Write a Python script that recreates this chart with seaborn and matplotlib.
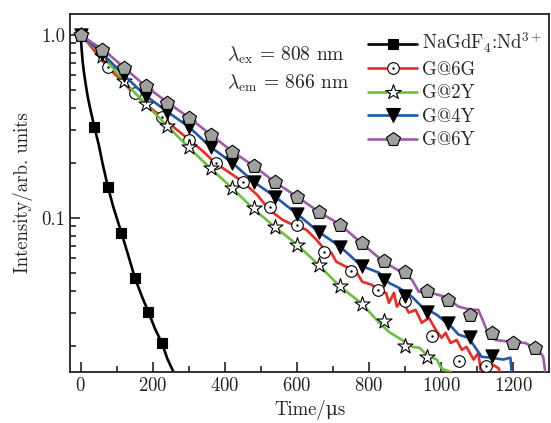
import numpy as np
import pandas as pd
import matplotlib
matplotlib.use('Agg')
import matplotlib.pyplot as plt
import seaborn as sns
from matplotlib.lines import Line2D
from matplotlib.legend_handler import HandlerTuple
from matplotlib.ticker import NullFormatter

# decay curves (time in us, normalised intensity)
t_nd = [0, 2, 5, 8, 14, 20, 28, 37.5, 50, 60, 75, 90, 112.5, 130, 150, 170, 187.5, 205, 225, 240, 257, 270]
i_nd = [1.0, 0.85, 0.72, 0.64, 0.53, 0.45, 0.38, 0.314, 0.25, 0.2, 0.148, 0.115, 0.083, 0.064, 0.047, 0.037,
        0.0306, 0.025, 0.0207, 0.017, 0.0144, 0.012]
tm_nd = [0, 37.5, 75, 112.5, 150, 187.5, 225]
im_nd = [1.0, 0.314, 0.148, 0.0828, 0.047, 0.0306, 0.0207]

t_6g = [0, 15, 35, 74, 110, 146, 185, 225, 260, 301, 340, 372, 410, 450, 490, 524, 560, 588, 626, 654, 670,
        695, 709, 736, 764, 781, 808, 828, 847, 855, 869, 877, 891, 910, 929, 946, 966, 985, 1001, 1012, 1026,
        1043, 1057, 1070, 1090, 1103, 1109, 1123, 1131, 1145, 1160, 1167]
i_6g = [1.0, 0.93, 0.83, 0.668, 0.57, 0.48, 0.41, 0.356, 0.31, 0.267, 0.23, 0.2, 0.178, 0.157, 0.133, 0.11,
        0.0975, 0.0916, 0.086, 0.0758, 0.0695, 0.0644, 0.0575, 0.054, 0.0507, 0.0447, 0.043, 0.0395, 0.0389,
        0.0343, 0.0389, 0.0327, 0.0356, 0.0303, 0.0314, 0.0267, 0.0284, 0.0244, 0.0221, 0.0235, 0.0207,
        0.0215, 0.019, 0.0197, 0.0168, 0.0183, 0.0148, 0.0157, 0.0148, 0.0157, 0.015, 0.012]
tm_6g = [0, 75, 150, 225, 300, 375, 450, 525, 600, 675, 750, 825, 900, 975, 1050, 1125]
im_6g = [1.0, 0.668, 0.48, 0.356, 0.267, 0.2, 0.157, 0.115, 0.0916, 0.065, 0.0513, 0.0404, 0.0352, 0.0227,
         0.0166, 0.0154]

t_2y = [0, 30, 60, 119, 179, 240, 298, 359, 419, 477, 538, 601, 660, 717, 780, 828, 855, 891, 919, 940, 960,
        988, 998, 1007, 1026, 1030]
i_2y = [1.0, 0.88, 0.77, 0.56, 0.42, 0.318, 0.244, 0.187, 0.146, 0.113, 0.0893, 0.0711, 0.0553, 0.0425,
        0.0339, 0.0267, 0.0238, 0.0215, 0.0197, 0.0195, 0.0178, 0.0168, 0.0153, 0.0148, 0.0144, 0.012]
tm_2y = [0, 60, 120, 180, 240, 300, 360, 420, 480, 540, 600, 660, 720, 780, 840, 900, 960]
im_2y = [1.0, 0.77, 0.56, 0.42, 0.318, 0.244, 0.187, 0.146, 0.113, 0.0893, 0.0711, 0.0553, 0.0425, 0.0339,
         0.0274, 0.020, 0.0174]

t_4y = [0, 30, 60, 120, 180, 240, 300, 360, 420, 480, 540, 600, 660, 720, 778, 828, 855, 883, 919, 946, 988,
        1029, 1048, 1076, 1095, 1112, 1139, 1172, 1192, 1195, 1198]
i_4y = [1.0, 0.89, 0.79, 0.60, 0.465, 0.38, 0.314, 0.244, 0.20, 0.157, 0.130, 0.105, 0.0838, 0.0695, 0.0547,
        0.050, 0.0441, 0.0414, 0.037, 0.0327, 0.0295, 0.0253, 0.023, 0.0221, 0.0195, 0.0174, 0.0172, 0.0168,
        0.0172, 0.0147, 0.012]
tm_4y = [0, 60, 120, 180, 240, 300, 360, 420, 480, 540, 600, 660, 720, 780, 840, 900, 960, 1020, 1080, 1140]
im_4y = [1.0, 0.79, 0.60, 0.465, 0.38, 0.314, 0.244, 0.20, 0.157, 0.130, 0.105, 0.0838, 0.0695, 0.0547,
         0.0458, 0.0375, 0.0306, 0.0267, 0.0224, 0.0176]

t_6y = [0, 30, 63, 121, 179, 242, 302, 361, 421, 480, 538, 601, 660, 720, 778, 838, 869, 900, 919, 938, 971,
        1012, 1048, 1080, 1103, 1117, 1126, 1150, 1194, 1233, 1269, 1283, 1288, 1292]
i_6y = [1.0, 0.91, 0.828, 0.66, 0.526, 0.425, 0.351, 0.284, 0.23, 0.192, 0.157, 0.130, 0.108, 0.0916, 0.073,
        0.058, 0.0533, 0.049, 0.0458, 0.0394, 0.0389, 0.037, 0.0327, 0.0315, 0.0314, 0.027, 0.0244, 0.0215,
        0.021, 0.0207, 0.019, 0.0174, 0.0147, 0.012]
tm_6y = [0, 60, 120, 180, 240, 300, 360, 420, 480, 540, 600, 660, 720, 780, 840, 900, 960, 1020, 1080, 1140,
         1200, 1260]
im_6y = [1.0, 0.828, 0.66, 0.526, 0.425, 0.351, 0.284, 0.23, 0.192, 0.157, 0.130, 0.108, 0.0916, 0.073,
         0.0582, 0.0507, 0.0399, 0.0357, 0.0295, 0.0236, 0.0207, 0.0195]

labels = ['NaGdF$_4$:Nd$^{3+}$', 'G@6G', 'G@2Y', 'G@4Y', 'G@6Y']
colors = ['#000000', '#ee2a24', '#6cbf3f', '#2158a8', '#a05aa8']

sns.set_style('ticks')
plt.rcParams['font.family'] = ['cmr10', 'DejaVu Serif']
plt.rcParams['mathtext.fontset'] = 'cm'
plt.rcParams['axes.unicode_minus'] = False
plt.rcParams['axes.formatter.use_mathtext'] = True

fs = 13.5
fig, ax = plt.subplots(figsize=(5.51, 4.23), dpi=100)
fig.subplots_adjust(left=0.127, right=0.997, top=0.967, bottom=0.121)

series = [
    (t_nd, i_nd, tm_nd, im_nd, 's', 'k', 45),
    (t_6g, i_6g, tm_6g, im_6g, 'o', 'white', 70),
    (t_2y, i_2y, tm_2y, im_2y, '*', 'white', 130),
    (t_4y, i_4y, tm_4y, im_4y, 'v', 'k', 90),
    (t_6y, i_6y, tm_6y, im_6y, 'p', '#a0a0a0', 110),
]

for k, (t, y, tm, ym, mk, fc, sz) in enumerate(series):
    df = pd.DataFrame({'t': t, 'I': y})
    sns.lineplot(data=df, x='t', y='I', color=colors[k], lw=1.9, estimator=None, sort=False,
                 ax=ax, legend=False, zorder=2 + 2 * k)
    dm = pd.DataFrame({'t': tm, 'I': ym})
    sns.scatterplot(data=dm, x='t', y='I', marker=mk, s=sz, color=fc, edgecolor='k', linewidth=0.8,
                    ax=ax, legend=False, zorder=3 + 2 * k)
    if mk == 'o':
        sns.scatterplot(data=dm, x='t', y='I', marker='o', s=3, color='k', edgecolor='k', linewidth=0,
                        ax=ax, legend=False, zorder=3 + 2 * k)

ax.set_yscale('log')
ax.set_xlim(-30, 1300)
ax.set_ylim(0.0144, 1.3)
ax.set_xticks([0, 200, 400, 600, 800, 1000, 1200])
ax.set_xticks(np.arange(100, 1300, 200), minor=True)
ax.set_yticks([0.1, 1.0], labels=['0.1', '1.0'])
ax.set_yticks([0.02, 0.03, 0.04, 0.05, 0.06, 0.07, 0.08, 0.09, 0.2, 0.3, 0.4, 0.5, 0.6, 0.7, 0.8, 0.9], minor=True)
ax.yaxis.set_minor_formatter(NullFormatter())
ax.tick_params(which='both', direction='in', width=1.2, labelsize=fs, colors='#222222')
ax.tick_params(which='major', length=7)
ax.tick_params(which='minor', length=4)
for s in ax.spines.values():
    s.set_linewidth(1.3)
    s.set_color('#222222')

ax.set_xlabel('Time/μs', fontsize=fs, labelpad=4)
ax.set_ylabel('Intensity/arb. units', fontsize=fs, labelpad=6)

ax.text(0.327, 0.885, r'$\lambda_{\rm ex}\,=\,808$ nm', transform=ax.transAxes, fontsize=14, va='center')
ax.text(0.327, 0.807, r'$\lambda_{\rm em}\,=\,866$ nm', transform=ax.transAxes, fontsize=14, va='center')

handles = []
for k, (t, y, tm, ym, mk, fc, sz) in enumerate(series):
    h = Line2D([], [], color=colors[k], lw=1.9, marker=mk, markersize=np.sqrt(sz),
               markerfacecolor=fc, markeredgecolor='k', markeredgewidth=0.8)
    if mk == 'o':
        dot = Line2D([], [], ls='none', marker='o', markersize=1.7, markerfacecolor='k', markeredgewidth=0)
        h = (h, dot)
    handles.append(h)
ax.legend(handles, labels, loc='upper left', bbox_to_anchor=(0.622, 0.952), frameon=False, fontsize=fs,
          handlelength=2.6, handletextpad=0.28, labelspacing=0.3, borderpad=0, borderaxespad=0,
          handler_map={tuple: HandlerTuple(ndivide=1, pad=0)})

fig.savefig('out.png', dpi=100)
